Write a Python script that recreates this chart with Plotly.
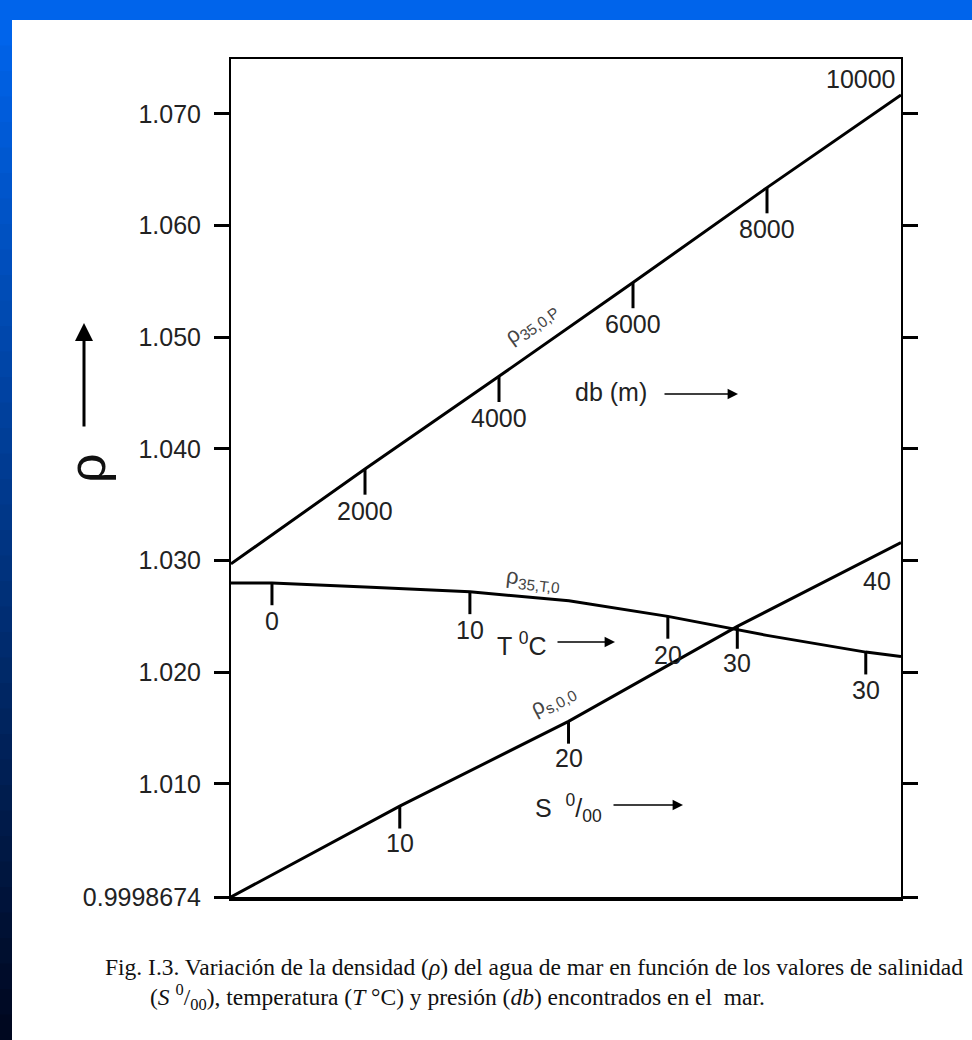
import numpy as np
import plotly.graph_objects as go

# --- data ---
# rho(35, 0, P) against pressure (db)
p_db = [0, 2000, 4000, 6000, 8000, 10000]
rho_p = [1.0297, 1.0382, 1.0465, 1.0549, 1.0634, 1.0717]
p_ticks = [2000, 4000, 6000, 8000]

# rho(35, T, 0) against temperature (deg C)
t_c = [-2.07, 0, 5, 10, 15, 20, 25, 30, 31.78]
rho_t = [1.0280, 1.0280, 1.0276, 1.0272, 1.0264, 1.0250, 1.0233, 1.0218, 1.0214]
t_ticks = [0, 10, 20, 30]

# rho(S, 0, 0) against salinity (per mil)
s_ppt = [0, 10, 20, 30, 39.7]
rho_s = [0.9998674, 1.0080, 1.0156, 1.0241, 1.0316]
s_ticks = [10, 20, 30]

y_ticks = [0.9998674, 1.010, 1.020, 1.030, 1.040, 1.050, 1.060, 1.070]
y_labels = ["0.9998674", "1.010", "1.020", "1.030", "1.040", "1.050",
            "1.060", "1.070"]

# --- page geometry (pixels) ---
W, H = 972, 1040
PL, PR, PT, PB = 231, 901, 59, 897
SANS = "Liberation Sans, Arial, Helvetica, sans-serif"
SERIF = "Liberation Serif, Times New Roman, serif"


def px(x):
    return (x - PL) / (PR - PL)


def py(y):
    return (PB - y) / (PB - PT)


fig = go.Figure()
ann = []

num_font = dict(family=SANS, size=25, color="#222")
curves = [
    (p_db, rho_p, p_ticks, "x", 0.0023, 0),
    (t_c, rho_t, t_ticks, "x2", 0.0020, 0),
    (s_ppt, rho_s, s_ticks, "x3", 0.0020, 2),
]
for xs, ys, ticks, xa, tlen, shift in curves:
    fig.add_trace(go.Scatter(
        x=xs, y=ys, xaxis=xa, yaxis="y", mode="lines",
        line=dict(color="black", width=3), hoverinfo="skip"))
    tick_rho = np.interp(ticks, xs, ys)
    # little marks hanging below the curve
    fig.add_trace(go.Scatter(
        x=ticks, y=tick_rho, xaxis=xa, yaxis="y", mode="markers",
        marker=dict(size=1, color="black"),
        error_y=dict(type="constant", symmetric=False, value=0,
                     valueminus=tlen, width=0, thickness=3,
                     color="black"),
        hoverinfo="skip"))
    for v, r in zip(ticks, tick_rho):
        ann.append(dict(x=v, y=float(r) - tlen, xref=xa, yref="y",
                        text=str(v), showarrow=False, xanchor="center",
                        yanchor="top", yshift=shift, font=num_font))

# end labels without a tick
ann.append(dict(x=p_db[-1], y=rho_p[-1], xref="x", yref="y", text="10000",
                showarrow=False, xanchor="right", yanchor="bottom",
                xshift=-3, yshift=0, font=num_font))
ann.append(dict(x=s_ppt[-1], y=rho_s[-1], xref="x3", yref="y", text="40",
                showarrow=False, xanchor="right", yanchor="top",
                xshift=-8, yshift=-22, font=num_font))

# curve names
lab_font = dict(family=SANS, size=22, color="#444")
ann.append(dict(x=4490, y=float(np.interp(4490, p_db, rho_p)), xref="x",
                yref="y", text="ρ<sub>35,0,P</sub>", showarrow=False,
                textangle=-36, yshift=30, font=lab_font))
ann.append(dict(x=13.2, y=float(np.interp(13.2, t_c, rho_t)), xref="x2",
                yref="y", text="ρ<sub>35,T,0</sub>", showarrow=False,
                textangle=6, yshift=18, font=lab_font))
ann.append(dict(x=19.1, y=float(np.interp(19.1, s_ppt, rho_s)), xref="x3",
                yref="y", text="ρ<sub>s,0,0</sub>", showarrow=False,
                textangle=-28, yshift=29, font=lab_font))

# variable labels with arrows
for text, cx, cy, a0, a1, ay in [
        ("db (m)", 611, 392, 663, 738, 394),
        ("T <sup>0</sup>C", 522, 644, 556, 615, 642),
        ("S  <sup>0</sup>/<sub>00</sub>", 568, 808, 612, 683, 805)]:
    ann.append(dict(x=px(cx), y=py(cy), xref="paper", yref="paper",
                    text=text, showarrow=False, xanchor="center",
                    yanchor="middle", font=num_font))
    ann.append(dict(x=px(a1), y=py(ay), xref="paper", yref="paper", text="",
                    showarrow=True, ax=a0 - a1, ay=0, arrowhead=2,
                    arrowsize=1.3, arrowwidth=1.6, arrowcolor="black"))

# rho axis title with arrow
ann.append(dict(x=px(84), y=py(323), xref="paper", yref="paper", text="",
                showarrow=True, ax=0, ay=105, arrowhead=2, arrowsize=1.2,
                arrowwidth=3, arrowcolor="black"))
ann.append(dict(x=px(87), y=py(468), xref="paper", yref="paper", text="ρ",
                showarrow=False, textangle=-90, xanchor="center",
                yanchor="middle",
                font=dict(family=SANS, size=52, color="#111")))

# caption
cap_font = dict(family=SERIF, size=23.5, color="#111")
ann.append(dict(x=px(103), y=py(967), xref="paper", yref="paper",
                xanchor="left", yanchor="middle", showarrow=False,
                font=cap_font,
                text="Fig. I.3. Variación de la densidad (<i>ρ</i>) del agua "
                     "de mar en función de los valores de salinidad"))
ann.append(dict(x=px(148), y=py(997), xref="paper", yref="paper",
                xanchor="left", yanchor="middle", showarrow=False,
                font=cap_font,
                text="(<i>S</i> <sup>0</sup>/<sub>00</sub>), temperatura "
                     "(<i>T</i> °C) y presión (<i>db</i>) encontrados en "
                     "el  mar."))

# blue slide frame
shapes = [dict(type="rect", xref="paper", yref="paper", layer="below",
               x0=px(0), x1=px(W), y0=py(0), y1=py(20), line_width=0,
               fillcolor="rgb(0,100,235)")]
bands = 40
top_c = np.array([0, 100, 235])
bot_c = np.array([0, 8, 32])
for i in range(bands):
    f = i / (bands - 1)
    c = (top_c * (1 - f) + bot_c * f).astype(int)
    y0 = 20 + (H - 20) * i / bands
    y1 = 20 + (H - 20) * (i + 1) / bands + 1
    shapes.append(dict(type="rect", xref="paper", yref="paper",
                       layer="below", x0=px(0), x1=px(12), y0=py(y0),
                       y1=py(y1), line_width=0,
                       fillcolor=f"rgb({c[0]},{c[1]},{c[2]})"))

hidden = dict(showgrid=False, zeroline=False, showticklabels=False,
              ticks="")
fig.update_layout(
    width=W, height=H, showlegend=False,
    paper_bgcolor="white", plot_bgcolor="white",
    margin=dict(l=PL, r=W - PR, t=PT, b=H - PB, pad=0),
    xaxis=dict(range=[0, 10000], showline=True, linewidth=4,
               linecolor="black", **hidden),
    xaxis2=dict(range=[t_c[0], t_c[-1]], overlaying="x", anchor="y",
                side="top", showline=True, linewidth=2, linecolor="black",
                **hidden),
    xaxis3=dict(range=[0, s_ppt[-1]], overlaying="x", anchor="y",
                visible=False),
    yaxis=dict(range=[0.9998674, 1.07492], tickvals=y_ticks,
               ticktext=y_labels, ticks="outside", ticklen=15, tickwidth=2.5,
               tickcolor="black", showline=True, linewidth=2,
               linecolor="black", mirror="ticks", showgrid=False,
               zeroline=False, ticklabelstandoff=8,
               tickfont=dict(family=SANS, size=25, color="#222")),
    annotations=ann, shapes=shapes,
)

fig.write_html("out.html", config={"displayModeBar": False},
               post_script="document.body.style.margin='0';"
                           "document.body.style.padding='0';")
